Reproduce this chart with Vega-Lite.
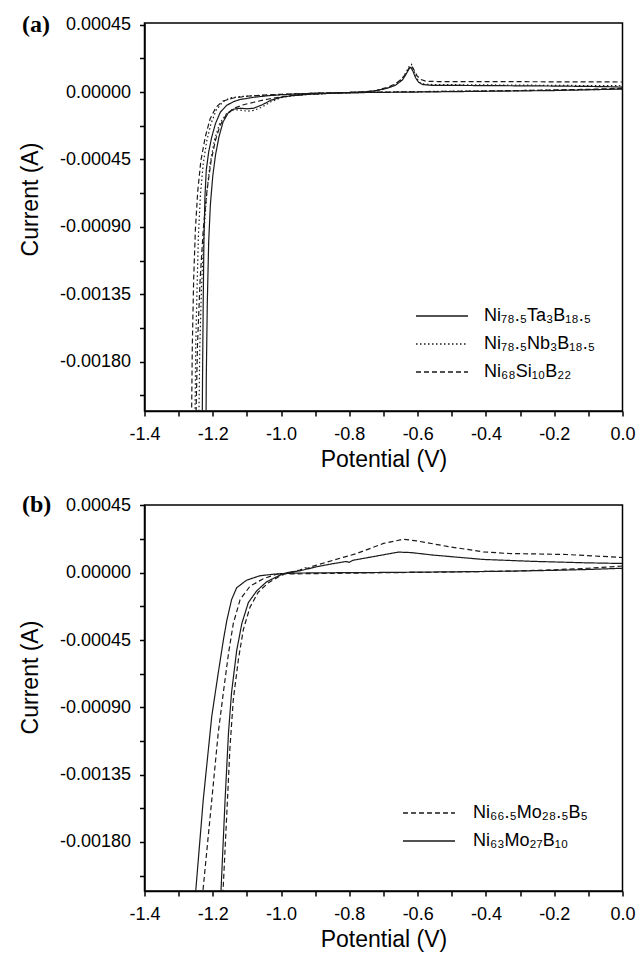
{
  "$schema": "https://vega.github.io/schema/vega-lite/v6.json",
  "background": "white",
  "padding": {"left": 18.5, "top": 11, "right": 0, "bottom": 0},
  "spacing": 20,
  "config": {
    "view": {"stroke": "black", "strokeWidth": 1.5},
    "font": "Liberation Sans",
    "axis": {
      "labelFont": "Liberation Sans", "titleFont": "Liberation Sans",
      "labelFontSize": 18, "titleFontSize": 23, "titleFontWeight": "normal",
      "labelColor": "black", "titleColor": "black", "domainColor": "black", "tickColor": "black",
      "domainWidth": 1.5, "tickWidth": 1.5, "tickSize": 5, "grid": false,
      "labelFlush": false, "labelOverlap": false
    },
    "legend": {
      "labelFont": "Liberation Sans", "labelFontSize": 18, "labelColor": "black",
      "symbolType": "M-2.6,0H2.6", "symbolSize": 400, "symbolStrokeWidth": 1.3,
      "symbolStrokeColor": "#1a1a1a", "rowPadding": 8, "padding": 0, "orient": "none"
    }
  },
  "datasets": {
    "a": [
      {"s":"Ni₇₈.₅Ta₃B₁₈.₅","i":0,"v":0.0,"c":0.00002},
      {"s":"Ni₇₈.₅Ta₃B₁₈.₅","i":1,"v":-0.1,"c":0.000015},
      {"s":"Ni₇₈.₅Ta₃B₁₈.₅","i":2,"v":-0.2,"c":0.00001},
      {"s":"Ni₇₈.₅Ta₃B₁₈.₅","i":3,"v":-0.4,"c":0.000005},
      {"s":"Ni₇₈.₅Ta₃B₁₈.₅","i":4,"v":-0.6,"c":0.0},
      {"s":"Ni₇₈.₅Ta₃B₁₈.₅","i":5,"v":-0.75,"c":-0.000003},
      {"s":"Ni₇₈.₅Ta₃B₁₈.₅","i":6,"v":-0.85,"c":-0.000008},
      {"s":"Ni₇₈.₅Ta₃B₁₈.₅","i":7,"v":-0.92,"c":-0.000015},
      {"s":"Ni₇₈.₅Ta₃B₁₈.₅","i":8,"v":-0.97,"c":-0.000025},
      {"s":"Ni₇₈.₅Ta₃B₁₈.₅","i":9,"v":-1.0,"c":-0.000035},
      {"s":"Ni₇₈.₅Ta₃B₁₈.₅","i":10,"v":-1.03,"c":-0.000055},
      {"s":"Ni₇₈.₅Ta₃B₁₈.₅","i":11,"v":-1.055,"c":-0.000085},
      {"s":"Ni₇₈.₅Ta₃B₁₈.₅","i":12,"v":-1.08,"c":-0.000108},
      {"s":"Ni₇₈.₅Ta₃B₁₈.₅","i":13,"v":-1.10,"c":-0.000112},
      {"s":"Ni₇₈.₅Ta₃B₁₈.₅","i":14,"v":-1.12,"c":-0.000108},
      {"s":"Ni₇₈.₅Ta₃B₁₈.₅","i":15,"v":-1.14,"c":-0.000115},
      {"s":"Ni₇₈.₅Ta₃B₁₈.₅","i":16,"v":-1.155,"c":-0.00014},
      {"s":"Ni₇₈.₅Ta₃B₁₈.₅","i":17,"v":-1.17,"c":-0.0002},
      {"s":"Ni₇₈.₅Ta₃B₁₈.₅","i":18,"v":-1.182,"c":-0.0003},
      {"s":"Ni₇₈.₅Ta₃B₁₈.₅","i":19,"v":-1.192,"c":-0.00042},
      {"s":"Ni₇₈.₅Ta₃B₁₈.₅","i":20,"v":-1.200,"c":-0.00056},
      {"s":"Ni₇₈.₅Ta₃B₁₈.₅","i":21,"v":-1.207,"c":-0.00075},
      {"s":"Ni₇₈.₅Ta₃B₁₈.₅","i":22,"v":-1.212,"c":-0.001},
      {"s":"Ni₇₈.₅Ta₃B₁₈.₅","i":23,"v":-1.216,"c":-0.0014},
      {"s":"Ni₇₈.₅Ta₃B₁₈.₅","i":24,"v":-1.219,"c":-0.0019},
      {"s":"Ni₇₈.₅Ta₃B₁₈.₅","i":25,"v":-1.221,"c":-0.0026},
      {"s":"Ni₇₈.₅Ta₃B₁₈.₅","i":26,"v":-1.232,"c":-0.0026},
      {"s":"Ni₇₈.₅Ta₃B₁₈.₅","i":27,"v":-1.230,"c":-0.0019},
      {"s":"Ni₇₈.₅Ta₃B₁₈.₅","i":28,"v":-1.228,"c":-0.0014},
      {"s":"Ni₇₈.₅Ta₃B₁₈.₅","i":29,"v":-1.226,"c":-0.001},
      {"s":"Ni₇₈.₅Ta₃B₁₈.₅","i":30,"v":-1.223,"c":-0.0007},
      {"s":"Ni₇₈.₅Ta₃B₁₈.₅","i":31,"v":-1.219,"c":-0.00052},
      {"s":"Ni₇₈.₅Ta₃B₁₈.₅","i":32,"v":-1.212,"c":-0.0004},
      {"s":"Ni₇₈.₅Ta₃B₁₈.₅","i":33,"v":-1.203,"c":-0.0003},
      {"s":"Ni₇₈.₅Ta₃B₁₈.₅","i":34,"v":-1.192,"c":-0.00021},
      {"s":"Ni₇₈.₅Ta₃B₁₈.₅","i":35,"v":-1.178,"c":-0.000135},
      {"s":"Ni₇₈.₅Ta₃B₁₈.₅","i":36,"v":-1.16,"c":-0.00009},
      {"s":"Ni₇₈.₅Ta₃B₁₈.₅","i":37,"v":-1.14,"c":-0.000065},
      {"s":"Ni₇₈.₅Ta₃B₁₈.₅","i":38,"v":-1.12,"c":-0.00005},
      {"s":"Ni₇₈.₅Ta₃B₁₈.₅","i":39,"v":-1.08,"c":-0.000035},
      {"s":"Ni₇₈.₅Ta₃B₁₈.₅","i":40,"v":-1.04,"c":-0.000025},
      {"s":"Ni₇₈.₅Ta₃B₁₈.₅","i":41,"v":-1.0,"c":-0.000018},
      {"s":"Ni₇₈.₅Ta₃B₁₈.₅","i":42,"v":-0.95,"c":-0.000012},
      {"s":"Ni₇₈.₅Ta₃B₁₈.₅","i":43,"v":-0.9,"c":-0.000008},
      {"s":"Ni₇₈.₅Ta₃B₁₈.₅","i":44,"v":-0.8,"c":-0.000003},
      {"s":"Ni₇₈.₅Ta₃B₁₈.₅","i":45,"v":-0.75,"c":0.000002},
      {"s":"Ni₇₈.₅Ta₃B₁₈.₅","i":46,"v":-0.72,"c":0.00001},
      {"s":"Ni₇₈.₅Ta₃B₁₈.₅","i":47,"v":-0.69,"c":0.000025},
      {"s":"Ni₇₈.₅Ta₃B₁₈.₅","i":48,"v":-0.665,"c":0.000045},
      {"s":"Ni₇₈.₅Ta₃B₁₈.₅","i":49,"v":-0.645,"c":0.00008},
      {"s":"Ni₇₈.₅Ta₃B₁₈.₅","i":50,"v":-0.635,"c":0.000115},
      {"s":"Ni₇₈.₅Ta₃B₁₈.₅","i":51,"v":-0.625,"c":0.000155},
      {"s":"Ni₇₈.₅Ta₃B₁₈.₅","i":52,"v":-0.62,"c":0.000165},
      {"s":"Ni₇₈.₅Ta₃B₁₈.₅","i":53,"v":-0.614,"c":0.00014},
      {"s":"Ni₇₈.₅Ta₃B₁₈.₅","i":54,"v":-0.606,"c":0.000095},
      {"s":"Ni₇₈.₅Ta₃B₁₈.₅","i":55,"v":-0.597,"c":0.000065},
      {"s":"Ni₇₈.₅Ta₃B₁₈.₅","i":56,"v":-0.585,"c":0.00005},
      {"s":"Ni₇₈.₅Ta₃B₁₈.₅","i":57,"v":-0.56,"c":0.000045},
      {"s":"Ni₇₈.₅Ta₃B₁₈.₅","i":58,"v":-0.4,"c":0.000043},
      {"s":"Ni₇₈.₅Ta₃B₁₈.₅","i":59,"v":-0.2,"c":0.00004},
      {"s":"Ni₇₈.₅Ta₃B₁₈.₅","i":60,"v":-0.05,"c":0.000036},
      {"s":"Ni₇₈.₅Ta₃B₁₈.₅","i":61,"v":0.0,"c":0.000033},

      {"s":"Ni₇₈.₅Nb₃B₁₈.₅","i":0,"v":0.0,"c":0.00002},
      {"s":"Ni₇₈.₅Nb₃B₁₈.₅","i":1,"v":-0.1,"c":0.000016},
      {"s":"Ni₇₈.₅Nb₃B₁₈.₅","i":2,"v":-0.3,"c":0.00001},
      {"s":"Ni₇₈.₅Nb₃B₁₈.₅","i":3,"v":-0.6,"c":0.000003},
      {"s":"Ni₇₈.₅Nb₃B₁₈.₅","i":4,"v":-0.75,"c":-0.000002},
      {"s":"Ni₇₈.₅Nb₃B₁₈.₅","i":5,"v":-0.85,"c":-0.000008},
      {"s":"Ni₇₈.₅Nb₃B₁₈.₅","i":6,"v":-0.92,"c":-0.000016},
      {"s":"Ni₇₈.₅Nb₃B₁₈.₅","i":7,"v":-0.97,"c":-0.000026},
      {"s":"Ni₇₈.₅Nb₃B₁₈.₅","i":8,"v":-1.0,"c":-0.000038},
      {"s":"Ni₇₈.₅Nb₃B₁₈.₅","i":9,"v":-1.03,"c":-0.000065},
      {"s":"Ni₇₈.₅Nb₃B₁₈.₅","i":10,"v":-1.055,"c":-0.0001},
      {"s":"Ni₇₈.₅Nb₃B₁₈.₅","i":11,"v":-1.08,"c":-0.000123},
      {"s":"Ni₇₈.₅Nb₃B₁₈.₅","i":12,"v":-1.10,"c":-0.000128},
      {"s":"Ni₇₈.₅Nb₃B₁₈.₅","i":13,"v":-1.12,"c":-0.00012},
      {"s":"Ni₇₈.₅Nb₃B₁₈.₅","i":14,"v":-1.14,"c":-0.00012},
      {"s":"Ni₇₈.₅Nb₃B₁₈.₅","i":15,"v":-1.16,"c":-0.000145},
      {"s":"Ni₇₈.₅Nb₃B₁₈.₅","i":16,"v":-1.18,"c":-0.00021},
      {"s":"Ni₇₈.₅Nb₃B₁₈.₅","i":17,"v":-1.195,"c":-0.00032},
      {"s":"Ni₇₈.₅Nb₃B₁₈.₅","i":18,"v":-1.208,"c":-0.00048},
      {"s":"Ni₇₈.₅Nb₃B₁₈.₅","i":19,"v":-1.218,"c":-0.00068},
      {"s":"Ni₇₈.₅Nb₃B₁₈.₅","i":20,"v":-1.226,"c":-0.00095},
      {"s":"Ni₇₈.₅Nb₃B₁₈.₅","i":21,"v":-1.233,"c":-0.0013},
      {"s":"Ni₇₈.₅Nb₃B₁₈.₅","i":22,"v":-1.238,"c":-0.0017},
      {"s":"Ni₇₈.₅Nb₃B₁₈.₅","i":23,"v":-1.243,"c":-0.0026},
      {"s":"Ni₇₈.₅Nb₃B₁₈.₅","i":24,"v":-1.254,"c":-0.0026},
      {"s":"Ni₇₈.₅Nb₃B₁₈.₅","i":25,"v":-1.250,"c":-0.0017},
      {"s":"Ni₇₈.₅Nb₃B₁₈.₅","i":26,"v":-1.246,"c":-0.0013},
      {"s":"Ni₇₈.₅Nb₃B₁₈.₅","i":27,"v":-1.242,"c":-0.00095},
      {"s":"Ni₇₈.₅Nb₃B₁₈.₅","i":28,"v":-1.236,"c":-0.00068},
      {"s":"Ni₇₈.₅Nb₃B₁₈.₅","i":29,"v":-1.228,"c":-0.00048},
      {"s":"Ni₇₈.₅Nb₃B₁₈.₅","i":30,"v":-1.218,"c":-0.00033},
      {"s":"Ni₇₈.₅Nb₃B₁₈.₅","i":31,"v":-1.205,"c":-0.00021},
      {"s":"Ni₇₈.₅Nb₃B₁₈.₅","i":32,"v":-1.19,"c":-0.00012},
      {"s":"Ni₇₈.₅Nb₃B₁₈.₅","i":33,"v":-1.17,"c":-0.000065},
      {"s":"Ni₇₈.₅Nb₃B₁₈.₅","i":34,"v":-1.15,"c":-0.00004},
      {"s":"Ni₇₈.₅Nb₃B₁₈.₅","i":35,"v":-1.12,"c":-0.00003},
      {"s":"Ni₇₈.₅Nb₃B₁₈.₅","i":36,"v":-1.08,"c":-0.000025},
      {"s":"Ni₇₈.₅Nb₃B₁₈.₅","i":37,"v":-1.0,"c":-0.000018},
      {"s":"Ni₇₈.₅Nb₃B₁₈.₅","i":38,"v":-0.9,"c":-0.000008},
      {"s":"Ni₇₈.₅Nb₃B₁₈.₅","i":39,"v":-0.8,"c":-0.000003},
      {"s":"Ni₇₈.₅Nb₃B₁₈.₅","i":40,"v":-0.75,"c":0.000002},
      {"s":"Ni₇₈.₅Nb₃B₁₈.₅","i":41,"v":-0.72,"c":0.00001},
      {"s":"Ni₇₈.₅Nb₃B₁₈.₅","i":42,"v":-0.69,"c":0.000025},
      {"s":"Ni₇₈.₅Nb₃B₁₈.₅","i":43,"v":-0.665,"c":0.00005},
      {"s":"Ni₇₈.₅Nb₃B₁₈.₅","i":44,"v":-0.645,"c":0.00009},
      {"s":"Ni₇₈.₅Nb₃B₁₈.₅","i":45,"v":-0.633,"c":0.000135},
      {"s":"Ni₇₈.₅Nb₃B₁₈.₅","i":46,"v":-0.624,"c":0.000175},
      {"s":"Ni₇₈.₅Nb₃B₁₈.₅","i":47,"v":-0.618,"c":0.000185},
      {"s":"Ni₇₈.₅Nb₃B₁₈.₅","i":48,"v":-0.612,"c":0.00015},
      {"s":"Ni₇₈.₅Nb₃B₁₈.₅","i":49,"v":-0.604,"c":0.0001},
      {"s":"Ni₇₈.₅Nb₃B₁₈.₅","i":50,"v":-0.595,"c":0.000065},
      {"s":"Ni₇₈.₅Nb₃B₁₈.₅","i":51,"v":-0.58,"c":0.000052},
      {"s":"Ni₇₈.₅Nb₃B₁₈.₅","i":52,"v":-0.55,"c":0.00005},
      {"s":"Ni₇₈.₅Nb₃B₁₈.₅","i":53,"v":-0.3,"c":0.000046},
      {"s":"Ni₇₈.₅Nb₃B₁₈.₅","i":54,"v":0.0,"c":0.000042},

      {"s":"Ni₆₈Si₁₀B₂₂","i":0,"v":0.0,"c":0.000025},
      {"s":"Ni₆₈Si₁₀B₂₂","i":1,"v":-0.1,"c":0.000018},
      {"s":"Ni₆₈Si₁₀B₂₂","i":2,"v":-0.3,"c":0.00001},
      {"s":"Ni₆₈Si₁₀B₂₂","i":3,"v":-0.6,"c":0.000002},
      {"s":"Ni₆₈Si₁₀B₂₂","i":4,"v":-0.75,"c":-0.000002},
      {"s":"Ni₆₈Si₁₀B₂₂","i":5,"v":-0.85,"c":-0.000008},
      {"s":"Ni₆₈Si₁₀B₂₂","i":6,"v":-0.92,"c":-0.000015},
      {"s":"Ni₆₈Si₁₀B₂₂","i":7,"v":-0.97,"c":-0.000023},
      {"s":"Ni₆₈Si₁₀B₂₂","i":8,"v":-1.0,"c":-0.000032},
      {"s":"Ni₆₈Si₁₀B₂₂","i":9,"v":-1.04,"c":-0.000048},
      {"s":"Ni₆₈Si₁₀B₂₂","i":10,"v":-1.08,"c":-0.000068},
      {"s":"Ni₆₈Si₁₀B₂₂","i":11,"v":-1.11,"c":-0.000085},
      {"s":"Ni₆₈Si₁₀B₂₂","i":12,"v":-1.14,"c":-0.00011},
      {"s":"Ni₆₈Si₁₀B₂₂","i":13,"v":-1.16,"c":-0.00015},
      {"s":"Ni₆₈Si₁₀B₂₂","i":14,"v":-1.178,"c":-0.00022},
      {"s":"Ni₆₈Si₁₀B₂₂","i":15,"v":-1.192,"c":-0.00032},
      {"s":"Ni₆₈Si₁₀B₂₂","i":16,"v":-1.205,"c":-0.00046},
      {"s":"Ni₆₈Si₁₀B₂₂","i":17,"v":-1.217,"c":-0.00066},
      {"s":"Ni₆₈Si₁₀B₂₂","i":18,"v":-1.228,"c":-0.00092},
      {"s":"Ni₆₈Si₁₀B₂₂","i":19,"v":-1.237,"c":-0.00125},
      {"s":"Ni₆₈Si₁₀B₂₂","i":20,"v":-1.245,"c":-0.0017},
      {"s":"Ni₆₈Si₁₀B₂₂","i":21,"v":-1.253,"c":-0.0026},
      {"s":"Ni₆₈Si₁₀B₂₂","i":22,"v":-1.264,"c":-0.0026},
      {"s":"Ni₆₈Si₁₀B₂₂","i":23,"v":-1.260,"c":-0.0017},
      {"s":"Ni₆₈Si₁₀B₂₂","i":24,"v":-1.256,"c":-0.00125},
      {"s":"Ni₆₈Si₁₀B₂₂","i":25,"v":-1.251,"c":-0.00092},
      {"s":"Ni₆₈Si₁₀B₂₂","i":26,"v":-1.244,"c":-0.00066},
      {"s":"Ni₆₈Si₁₀B₂₂","i":27,"v":-1.235,"c":-0.00046},
      {"s":"Ni₆₈Si₁₀B₂₂","i":28,"v":-1.222,"c":-0.0003},
      {"s":"Ni₆₈Si₁₀B₂₂","i":29,"v":-1.208,"c":-0.00018},
      {"s":"Ni₆₈Si₁₀B₂₂","i":30,"v":-1.19,"c":-0.0001},
      {"s":"Ni₆₈Si₁₀B₂₂","i":31,"v":-1.17,"c":-0.00006},
      {"s":"Ni₆₈Si₁₀B₂₂","i":32,"v":-1.14,"c":-0.00004},
      {"s":"Ni₆₈Si₁₀B₂₂","i":33,"v":-1.10,"c":-0.000028},
      {"s":"Ni₆₈Si₁₀B₂₂","i":34,"v":-1.05,"c":-0.00002},
      {"s":"Ni₆₈Si₁₀B₂₂","i":35,"v":-1.0,"c":-0.000015},
      {"s":"Ni₆₈Si₁₀B₂₂","i":36,"v":-0.9,"c":-0.000008},
      {"s":"Ni₆₈Si₁₀B₂₂","i":37,"v":-0.8,"c":-0.000003},
      {"s":"Ni₆₈Si₁₀B₂₂","i":38,"v":-0.75,"c":0.000003},
      {"s":"Ni₆₈Si₁₀B₂₂","i":39,"v":-0.72,"c":0.000012},
      {"s":"Ni₆₈Si₁₀B₂₂","i":40,"v":-0.69,"c":0.00003},
      {"s":"Ni₆₈Si₁₀B₂₂","i":41,"v":-0.665,"c":0.000055},
      {"s":"Ni₆₈Si₁₀B₂₂","i":42,"v":-0.645,"c":0.00009},
      {"s":"Ni₆₈Si₁₀B₂₂","i":43,"v":-0.633,"c":0.00013},
      {"s":"Ni₆₈Si₁₀B₂₂","i":44,"v":-0.624,"c":0.000165},
      {"s":"Ni₆₈Si₁₀B₂₂","i":45,"v":-0.618,"c":0.000175},
      {"s":"Ni₆₈Si₁₀B₂₂","i":46,"v":-0.611,"c":0.00015},
      {"s":"Ni₆₈Si₁₀B₂₂","i":47,"v":-0.602,"c":0.00011},
      {"s":"Ni₆₈Si₁₀B₂₂","i":48,"v":-0.592,"c":0.000085},
      {"s":"Ni₆₈Si₁₀B₂₂","i":49,"v":-0.575,"c":0.000072},
      {"s":"Ni₆₈Si₁₀B₂₂","i":50,"v":-0.54,"c":0.00007},
      {"s":"Ni₆₈Si₁₀B₂₂","i":51,"v":-0.3,"c":0.000069},
      {"s":"Ni₆₈Si₁₀B₂₂","i":52,"v":0.0,"c":0.000067}
    ],
    "b": [
      {"s":"Ni₆₃Mo₂₇B₁₀","i":0,"v":0.0,"c":0.00003},
      {"s":"Ni₆₃Mo₂₇B₁₀","i":1,"v":-0.1,"c":0.000022},
      {"s":"Ni₆₃Mo₂₇B₁₀","i":2,"v":-0.2,"c":0.000016},
      {"s":"Ni₆₃Mo₂₇B₁₀","i":3,"v":-0.35,"c":0.00001},
      {"s":"Ni₆₃Mo₂₇B₁₀","i":4,"v":-0.5,"c":0.000006},
      {"s":"Ni₆₃Mo₂₇B₁₀","i":5,"v":-0.7,"c":0.000002},
      {"s":"Ni₆₃Mo₂₇B₁₀","i":6,"v":-0.85,"c":0.0},
      {"s":"Ni₆₃Mo₂₇B₁₀","i":7,"v":-0.95,"c":-0.000002},
      {"s":"Ni₆₃Mo₂₇B₁₀","i":8,"v":-0.993,"c":-0.000005},
      {"s":"Ni₆₃Mo₂₇B₁₀","i":9,"v":-1.023,"c":-0.00001},
      {"s":"Ni₆₃Mo₂₇B₁₀","i":10,"v":-1.062,"c":-0.00002},
      {"s":"Ni₆₃Mo₂₇B₁₀","i":11,"v":-1.101,"c":-0.00005},
      {"s":"Ni₆₃Mo₂₇B₁₀","i":12,"v":-1.13,"c":-0.0001},
      {"s":"Ni₆₃Mo₂₇B₁₀","i":13,"v":-1.145,"c":-0.00018},
      {"s":"Ni₆₃Mo₂₇B₁₀","i":14,"v":-1.159,"c":-0.00032},
      {"s":"Ni₆₃Mo₂₇B₁₀","i":15,"v":-1.169,"c":-0.00045},
      {"s":"Ni₆₃Mo₂₇B₁₀","i":16,"v":-1.184,"c":-0.00067},
      {"s":"Ni₆₃Mo₂₇B₁₀","i":17,"v":-1.203,"c":-0.00096},
      {"s":"Ni₆₃Mo₂₇B₁₀","i":18,"v":-1.228,"c":-0.00152},
      {"s":"Ni₆₃Mo₂₇B₁₀","i":19,"v":-1.25,"c":-0.00213},
      {"s":"Ni₆₃Mo₂₇B₁₀","i":20,"v":-1.26,"c":-0.0025},
      {"s":"Ni₆₃Mo₂₇B₁₀","i":21,"v":-1.18,"c":-0.0025},
      {"s":"Ni₆₃Mo₂₇B₁₀","i":22,"v":-1.176,"c":-0.00213},
      {"s":"Ni₆₃Mo₂₇B₁₀","i":23,"v":-1.164,"c":-0.00152},
      {"s":"Ni₆₃Mo₂₇B₁₀","i":24,"v":-1.154,"c":-0.00107},
      {"s":"Ni₆₃Mo₂₇B₁₀","i":25,"v":-1.145,"c":-0.0008},
      {"s":"Ni₆₃Mo₂₇B₁₀","i":26,"v":-1.13,"c":-0.00052},
      {"s":"Ni₆₃Mo₂₇B₁₀","i":27,"v":-1.115,"c":-0.00034},
      {"s":"Ni₆₃Mo₂₇B₁₀","i":28,"v":-1.096,"c":-0.0002},
      {"s":"Ni₆₃Mo₂₇B₁₀","i":29,"v":-1.071,"c":-0.00012},
      {"s":"Ni₆₃Mo₂₇B₁₀","i":30,"v":-1.042,"c":-0.00006},
      {"s":"Ni₆₃Mo₂₇B₁₀","i":31,"v":-1.003,"c":-0.000016},
      {"s":"Ni₆₃Mo₂₇B₁₀","i":32,"v":-0.984,"c":0.0},
      {"s":"Ni₆₃Mo₂₇B₁₀","i":33,"v":-0.945,"c":0.000013},
      {"s":"Ni₆₃Mo₂₇B₁₀","i":34,"v":-0.896,"c":0.00004},
      {"s":"Ni₆₃Mo₂₇B₁₀","i":35,"v":-0.85,"c":0.00006},
      {"s":"Ni₆₃Mo₂₇B₁₀","i":36,"v":-0.81,"c":0.000075},
      {"s":"Ni₆₃Mo₂₇B₁₀","i":37,"v":-0.80,"c":0.00007},
      {"s":"Ni₆₃Mo₂₇B₁₀","i":38,"v":-0.79,"c":0.000083},
      {"s":"Ni₆₃Mo₂₇B₁₀","i":39,"v":-0.749,"c":0.0001},
      {"s":"Ni₆₃Mo₂₇B₁₀","i":40,"v":-0.70,"c":0.00012},
      {"s":"Ni₆₃Mo₂₇B₁₀","i":41,"v":-0.657,"c":0.000138},
      {"s":"Ni₆₃Mo₂₇B₁₀","i":42,"v":-0.62,"c":0.000135},
      {"s":"Ni₆₃Mo₂₇B₁₀","i":43,"v":-0.554,"c":0.000118},
      {"s":"Ni₆₃Mo₂₇B₁₀","i":44,"v":-0.408,"c":0.000089},
      {"s":"Ni₆₃Mo₂₇B₁₀","i":45,"v":-0.261,"c":0.000076},
      {"s":"Ni₆₃Mo₂₇B₁₀","i":46,"v":-0.1,"c":0.000066},
      {"s":"Ni₆₃Mo₂₇B₁₀","i":47,"v":0.0,"c":0.000062},

      {"s":"Ni₆₆.₅Mo₂₈.₅B₅","i":0,"v":0.0,"c":0.000045},
      {"s":"Ni₆₆.₅Mo₂₈.₅B₅","i":1,"v":-0.1,"c":0.00003},
      {"s":"Ni₆₆.₅Mo₂₈.₅B₅","i":2,"v":-0.2,"c":0.00002},
      {"s":"Ni₆₆.₅Mo₂₈.₅B₅","i":3,"v":-0.3,"c":0.000012},
      {"s":"Ni₆₆.₅Mo₂₈.₅B₅","i":4,"v":-0.5,"c":0.000005},
      {"s":"Ni₆₆.₅Mo₂₈.₅B₅","i":5,"v":-0.7,"c":0.0},
      {"s":"Ni₆₆.₅Mo₂₈.₅B₅","i":6,"v":-0.85,"c":-0.000004},
      {"s":"Ni₆₆.₅Mo₂₈.₅B₅","i":7,"v":-0.95,"c":-0.000007},
      {"s":"Ni₆₆.₅Mo₂₈.₅B₅","i":8,"v":-0.984,"c":-0.000008},
      {"s":"Ni₆₆.₅Mo₂₈.₅B₅","i":9,"v":-1.013,"c":-0.00001},
      {"s":"Ni₆₆.₅Mo₂₈.₅B₅","i":10,"v":-1.052,"c":-0.00004},
      {"s":"Ni₆₆.₅Mo₂₈.₅B₅","i":11,"v":-1.091,"c":-0.00009},
      {"s":"Ni₆₆.₅Mo₂₈.₅B₅","i":12,"v":-1.12,"c":-0.00018},
      {"s":"Ni₆₆.₅Mo₂₈.₅B₅","i":13,"v":-1.14,"c":-0.00034},
      {"s":"Ni₆₆.₅Mo₂₈.₅B₅","i":14,"v":-1.154,"c":-0.00054},
      {"s":"Ni₆₆.₅Mo₂₈.₅B₅","i":15,"v":-1.169,"c":-0.0008},
      {"s":"Ni₆₆.₅Mo₂₈.₅B₅","i":16,"v":-1.184,"c":-0.00107},
      {"s":"Ni₆₆.₅Mo₂₈.₅B₅","i":17,"v":-1.203,"c":-0.00152},
      {"s":"Ni₆₆.₅Mo₂₈.₅B₅","i":18,"v":-1.229,"c":-0.00213},
      {"s":"Ni₆₆.₅Mo₂₈.₅B₅","i":19,"v":-1.24,"c":-0.0025},
      {"s":"Ni₆₆.₅Mo₂₈.₅B₅","i":20,"v":-1.175,"c":-0.0025},
      {"s":"Ni₆₆.₅Mo₂₈.₅B₅","i":21,"v":-1.170,"c":-0.00213},
      {"s":"Ni₆₆.₅Mo₂₈.₅B₅","i":22,"v":-1.157,"c":-0.00152},
      {"s":"Ni₆₆.₅Mo₂₈.₅B₅","i":23,"v":-1.150,"c":-0.00118},
      {"s":"Ni₆₆.₅Mo₂₈.₅B₅","i":24,"v":-1.140,"c":-0.00085},
      {"s":"Ni₆₆.₅Mo₂₈.₅B₅","i":25,"v":-1.125,"c":-0.00058},
      {"s":"Ni₆₆.₅Mo₂₈.₅B₅","i":26,"v":-1.1105,"c":-0.00038},
      {"s":"Ni₆₆.₅Mo₂₈.₅B₅","i":27,"v":-1.091,"c":-0.00023},
      {"s":"Ni₆₆.₅Mo₂₈.₅B₅","i":28,"v":-1.067,"c":-0.00013},
      {"s":"Ni₆₆.₅Mo₂₈.₅B₅","i":29,"v":-1.037,"c":-0.000067},
      {"s":"Ni₆₆.₅Mo₂₈.₅B₅","i":30,"v":-1.003,"c":-0.000022},
      {"s":"Ni₆₆.₅Mo₂₈.₅B₅","i":31,"v":-0.984,"c":-0.000004},
      {"s":"Ni₆₆.₅Mo₂₈.₅B₅","i":32,"v":-0.945,"c":0.000018},
      {"s":"Ni₆₆.₅Mo₂₈.₅B₅","i":33,"v":-0.93,"c":0.000033},
      {"s":"Ni₆₆.₅Mo₂₈.₅B₅","i":34,"v":-0.921,"c":0.00003},
      {"s":"Ni₆₆.₅Mo₂₈.₅B₅","i":35,"v":-0.912,"c":0.00004},
      {"s":"Ni₆₆.₅Mo₂₈.₅B₅","i":36,"v":-0.847,"c":0.000084},
      {"s":"Ni₆₆.₅Mo₂₈.₅B₅","i":37,"v":-0.778,"c":0.000129},
      {"s":"Ni₆₆.₅Mo₂₈.₅B₅","i":38,"v":-0.70,"c":0.000196},
      {"s":"Ni₆₆.₅Mo₂₈.₅B₅","i":39,"v":-0.642,"c":0.000224},
      {"s":"Ni₆₆.₅Mo₂₈.₅B₅","i":40,"v":-0.603,"c":0.000213},
      {"s":"Ni₆₆.₅Mo₂₈.₅B₅","i":41,"v":-0.505,"c":0.000173},
      {"s":"Ni₆₆.₅Mo₂₈.₅B₅","i":42,"v":-0.408,"c":0.00014},
      {"s":"Ni₆₆.₅Mo₂₈.₅B₅","i":43,"v":-0.339,"c":0.000129},
      {"s":"Ni₆₆.₅Mo₂₈.₅B₅","i":44,"v":-0.163,"c":0.000122},
      {"s":"Ni₆₆.₅Mo₂₈.₅B₅","i":45,"v":0.0,"c":0.000102}
    ]
  },
  "vconcat": [
    {
      "width": 478,
      "height": 388,
      "layer": [
        {
          "data": {"name": "a"},
          "mark": {"type": "line", "clip": true, "strokeWidth": 1.2, "color": "#1a1a1a"},
          "encoding": {
            "x": {"field": "v", "type": "quantitative",
              "scale": {"domain": [-1.4, 0], "nice": false, "zero": false},
              "axis": {"title": "Potential (V)", "values": [-1.4,-1.3,-1.2,-1.1,-1.0,-0.9,-0.8,-0.7,-0.6,-0.5,-0.4,-0.3,-0.2,-0.1,0],
                "labelExpr": "round(datum.value*10) % 2 == 0 ? replace(format(datum.value, '.1f'), '−', '-') : ''",
                "labelPadding": 9, "titleY": 37, "titleBaseline": "top"}},
            "y": {"field": "c", "type": "quantitative",
              "scale": {"domain": [-0.00213, 0.000461], "nice": false, "zero": false},
              "axis": {"title": "Current (A)", "values": [0.00045,0.000225,0,-0.000225,-0.00045,-0.000675,-0.0009,-0.001125,-0.00135,-0.001575,-0.0018,-0.002025],
                "labelExpr": "abs(datum.value/0.00045 - round(datum.value/0.00045)) < 0.01 ? replace(format(datum.value, '.5f'), '−', '-') : ''",
                "labelPadding": 9, "titleX": -102, "titleY": 176, "titleAngle": -90, "titleAlign": "center", "titleBaseline": "bottom"}},
            "strokeDash": {"field": "s", "type": "nominal",
              "scale": {"domain": ["Ni₇₈.₅Ta₃B₁₈.₅", "Ni₇₈.₅Nb₃B₁₈.₅", "Ni₆₈Si₁₀B₂₂"], "range": [[1, 0], [1.5, 2.5], [5, 3]]},
              "legend": {"title": null, "legendX": 286.5, "legendY": 282, "labelOffset": 31}},
            "order": {"field": "i", "type": "quantitative"}
          }
        },
        {
          "data": {"values": [{"t": "(a)"}]},
          "mark": {"type": "text", "font": "Liberation Serif", "fontSize": 24, "fontWeight": "bold", "color": "black", "align": "left", "baseline": "middle", "dx": -122.5, "dy": 0},
          "encoding": {
            "text": {"field": "t", "type": "nominal"},
            "x": {"datum": -1.4, "type": "quantitative",
              "scale": {"domain": [-1.4, 0], "nice": false, "zero": false},
              "axis": {"title": "Potential (V)", "values": [-1.4,-1.3,-1.2,-1.1,-1.0,-0.9,-0.8,-0.7,-0.6,-0.5,-0.4,-0.3,-0.2,-0.1,0],
                "labelExpr": "round(datum.value*10) % 2 == 0 ? replace(format(datum.value, '.1f'), '−', '-') : ''",
                "labelPadding": 9, "titleY": 37, "titleBaseline": "top"}},
            "y": {"datum": 0.00045, "type": "quantitative",
              "scale": {"domain": [-0.00213, 0.000461], "nice": false, "zero": false},
              "axis": {"title": "Current (A)", "values": [0.00045,0.000225,0,-0.000225,-0.00045,-0.000675,-0.0009,-0.001125,-0.00135,-0.001575,-0.0018,-0.002025],
                "labelExpr": "abs(datum.value/0.00045 - round(datum.value/0.00045)) < 0.01 ? replace(format(datum.value, '.5f'), '−', '-') : ''",
                "labelPadding": 9, "titleX": -102, "titleY": 176, "titleAngle": -90, "titleAlign": "center", "titleBaseline": "bottom"}}
          }
        }
      ]
    },
    {
      "width": 478,
      "height": 386,
      "layer": [
        {
          "data": {"name": "b"},
          "mark": {"type": "line", "clip": true, "strokeWidth": 1.2, "color": "#1a1a1a"},
          "encoding": {
            "x": {"field": "v", "type": "quantitative",
              "scale": {"domain": [-1.4, 0], "nice": false, "zero": false},
              "axis": {"title": "Potential (V)", "values": [-1.4,-1.3,-1.2,-1.1,-1.0,-0.9,-0.8,-0.7,-0.6,-0.5,-0.4,-0.3,-0.2,-0.1,0],
                "labelExpr": "round(datum.value*10) % 2 == 0 ? replace(format(datum.value, '.1f'), '−', '-') : ''",
                "labelPadding": 9, "titleY": 37, "titleBaseline": "top"}},
            "y": {"field": "c", "type": "quantitative",
              "scale": {"domain": [-0.002128, 0.000453], "nice": false, "zero": false},
              "axis": {"title": "Current (A)", "values": [0.00045,0.000225,0,-0.000225,-0.00045,-0.000675,-0.0009,-0.001125,-0.00135,-0.001575,-0.0018,-0.002025],
                "labelExpr": "abs(datum.value/0.00045 - round(datum.value/0.00045)) < 0.01 ? replace(format(datum.value, '.5f'), '−', '-') : ''",
                "labelPadding": 9, "titleX": -102, "titleY": 172, "titleAngle": -90, "titleAlign": "center", "titleBaseline": "bottom"}},
            "strokeDash": {"field": "s", "type": "nominal",
              "scale": {"domain": ["Ni₆₆.₅Mo₂₈.₅B₅", "Ni₆₃Mo₂₇B₁₀"], "range": [[5, 3], [1, 0]]},
              "legend": {"title": null, "legendX": 273.5, "legendY": 297, "labelOffset": 33}},
            "order": {"field": "i", "type": "quantitative"}
          }
        },
        {
          "data": {"values": [{"t": "(b)"}]},
          "mark": {"type": "text", "font": "Liberation Serif", "fontSize": 24, "fontWeight": "bold", "color": "black", "align": "left", "baseline": "middle", "dx": -122.5, "dy": 0},
          "encoding": {
            "text": {"field": "t", "type": "nominal"},
            "x": {"datum": -1.4, "type": "quantitative",
              "scale": {"domain": [-1.4, 0], "nice": false, "zero": false},
              "axis": {"title": "Potential (V)", "values": [-1.4,-1.3,-1.2,-1.1,-1.0,-0.9,-0.8,-0.7,-0.6,-0.5,-0.4,-0.3,-0.2,-0.1,0],
                "labelExpr": "round(datum.value*10) % 2 == 0 ? replace(format(datum.value, '.1f'), '−', '-') : ''",
                "labelPadding": 9, "titleY": 37, "titleBaseline": "top"}},
            "y": {"datum": 0.00045, "type": "quantitative",
              "scale": {"domain": [-0.002128, 0.000453], "nice": false, "zero": false},
              "axis": {"title": "Current (A)", "values": [0.00045,0.000225,0,-0.000225,-0.00045,-0.000675,-0.0009,-0.001125,-0.00135,-0.001575,-0.0018,-0.002025],
                "labelExpr": "abs(datum.value/0.00045 - round(datum.value/0.00045)) < 0.01 ? replace(format(datum.value, '.5f'), '−', '-') : ''",
                "labelPadding": 9, "titleX": -102, "titleY": 172, "titleAngle": -90, "titleAlign": "center", "titleBaseline": "bottom"}}
          }
        }
      ]
    }
  ],
  "resolve": {"scale": {"strokeDash": "independent"}, "legend": {"strokeDash": "independent"}}
}
